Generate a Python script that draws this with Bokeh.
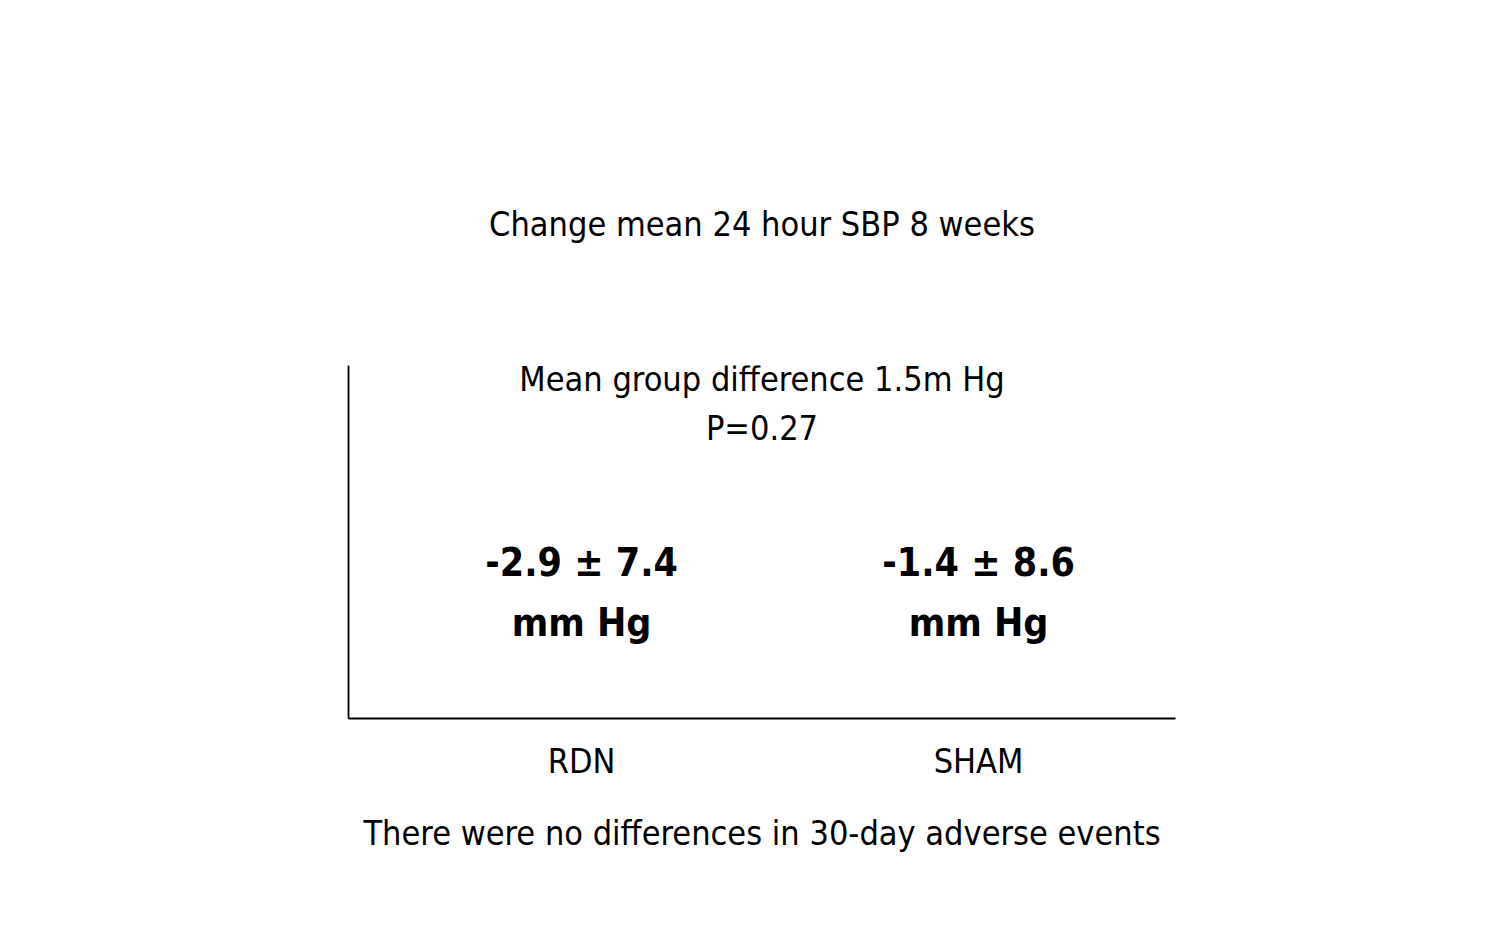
from bokeh.plotting import figure
from bokeh.models import Range1d, Label, FixedTicker, Title
from bokeh.core.properties import value
from bokeh.embed import file_html
from bokeh.resources import INLINE

# ---- data ----
groups = ["RDN", "SHAM"]
group_pos = [0, 1]
means = [-2.9, -1.4]
sds = [7.4, 8.6]
unit = "mm Hg"
title_text = "Change mean 24 hour SBP 8 weeks"
diff_text = "Mean group difference 1.5m Hg"
p_text = "P=0.27"
footer_text = "There were no differences in 30-day adverse events"

FONT = "'DejaVu Sans Condensed', 'Roboto Condensed', 'Liberation Sans Narrow', Roboto"
REG = "34px"
BOLD = "39px"

W, H = 1496, 929
p = figure(width=W, height=H, output_backend="svg", toolbar_location=None,
           x_range=Range1d(-0.587, 1.496), y_range=Range1d(0, 1),
           min_border_left=348, min_border_right=321,
           min_border_top=365, min_border_bottom=211)
p.background_fill_color = "white"
p.border_fill_color = "white"
p.outline_line_color = None
p.grid.visible = False

p.title = Title(text=title_text, align="center", text_font=FONT,
                text_font_size=REG, text_font_style="normal",
                text_color="black", standoff=243)

# x axis
xa = p.xaxis[0]
xa.ticker = FixedTicker(ticks=group_pos)
xa.major_label_overrides = {g: n for g, n in zip(group_pos, groups)}
xa.major_tick_line_color = None
xa.minor_tick_line_color = None
xa.major_tick_out = 0
xa.major_label_standoff = 22
xa.major_label_text_font = FONT
xa.major_label_text_font_size = REG
xa.major_label_text_color = "black"
xa.axis_line_color = "black"
xa.axis_line_width = 1.8
xa.axis_label = footer_text
xa.axis_label_text_font = FONT
xa.axis_label_text_font_size = REG
xa.axis_label_text_font_style = "normal"
xa.axis_label_text_color = "black"
xa.axis_label_standoff = 29

# y axis: line only
ya = p.yaxis[0]
ya.major_tick_line_color = None
ya.minor_tick_line_color = None
ya.major_label_text_font_size = "0px"
ya.major_label_text_color = None
ya.axis_line_color = "black"
ya.axis_line_width = 1.8

# centre annotations
xmid = (p.x_range.start + p.x_range.end) / 2
for txt, yy in [(diff_text, 0.963), (p_text, 0.822)]:
    p.add_layout(Label(x=xmid, y=yy, text=txt, text_align="center",
                       text_baseline="alphabetic", text_font=FONT,
                       text_font_size=REG, text_color="black"))

# values per group
val_txt = [f"{m} \u00b1 {s}" for m, s in zip(means, sds)]
p.text(x=group_pos, y=[0.442] * len(group_pos), text=val_txt,
       text_align="center", text_baseline="alphabetic",
       text_font=value(FONT), text_font_size=BOLD, text_font_style="bold",
       text_color="black")
p.text(x=group_pos, y=[0.272] * len(group_pos), text=[unit] * len(group_pos),
       text_align="center", text_baseline="alphabetic",
       text_font=value(FONT), text_font_size=BOLD, text_font_style="bold",
       text_color="black")

open("out.html", "w").write(file_html(p, INLINE))
